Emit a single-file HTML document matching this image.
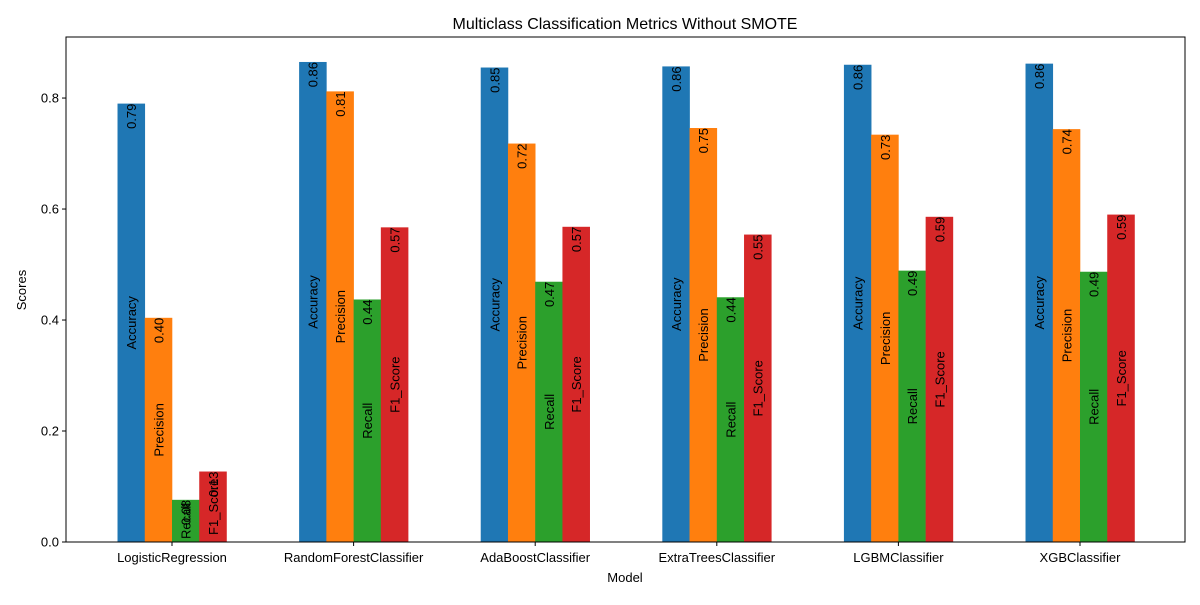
<!DOCTYPE html>
<html><head><meta charset="utf-8"><style>
body{margin:0;background:#fff;}
svg text{font-family:"Liberation Sans","DejaVu Sans",sans-serif;}
</style></head><body>
<svg id="chart" width="1200" height="600" xmlns="http://www.w3.org/2000/svg">
<rect width="1200" height="600" fill="#fff"/>
<text x="625" y="29" font-size="16" text-anchor="middle">Multiclass Classification Metrics Without SMOTE</text>
<g id="marks"></g>
<rect x="66" y="37" width="1119" height="505" fill="none" stroke="#000" stroke-width="1"/>
<text x="625" y="582" font-size="13" text-anchor="middle">Model</text>
<text transform="translate(26,290) rotate(-90)" font-size="13" text-anchor="middle">Scores</text>
</svg>
<script>
const categories=["LogisticRegression","RandomForestClassifier","AdaBoostClassifier","ExtraTreesClassifier","LGBMClassifier","XGBClassifier"];
const metrics=["Accuracy","Precision","Recall","F1_Score"];
const accuracy=[0.790,0.865,0.855,0.857,0.860,0.862];
const precision=[0.404,0.812,0.718,0.746,0.734,0.744];
const recall=[0.076,0.437,0.469,0.441,0.489,0.487];
const f1Score=[0.127,0.567,0.568,0.554,0.586,0.590];
const yTicks=[0.0,0.2,0.4,0.6,0.8];
const colors=["#1f77b4","#ff7f0e","#2ca02c","#d62728"];
const series=[accuracy,precision,recall,f1Score];
const NS="http://www.w3.org/2000/svg";
const x0=66,x1=1185,y0=542,yTop=37,yMax=0.91;
function yS(v){return y0-v/yMax*(y0-yTop);}
const grpStep=181.6, first=172;
function xS(i){return first+i*grpStep;}
const bw=grpStep*0.15;
const g=document.getElementById('marks');
const svg=document.getElementById('chart');
function mk(tag,attrs,parent){const e=document.createElementNS(NS,tag);for(const k in attrs)e.setAttribute(k,attrs[k]);(parent||g).appendChild(e);return e;}
categories.forEach((c,i)=>{
  series.forEach((s,j)=>{
    const v=s[i];
    const left=xS(i)+(j-2)*bw;
    const r=mk('rect',{x:left,y:yS(v),width:bw+0.3,height:y0-yS(v),fill:colors[j]});
    
    
    const cx=left+bw/2+5;
    const t1=mk('text',{transform:`translate(${cx},${yS(v)}) rotate(-90)`,'font-size':13,'text-anchor':'end'});
    t1.textContent=v.toFixed(2);
    
    
    const t2=mk('text',{transform:`translate(${cx},${(yS(v)+y0)/2}) rotate(-90)`,'font-size':13,'text-anchor':'middle'});
    t2.textContent=metrics[j];
    
    
  });
  mk('line',{x1:xS(i),x2:xS(i),y1:y0,y2:y0+4,stroke:'#000'},svg);
  const tl=mk('text',{x:xS(i),y:y0+20,'font-size':13,'text-anchor':'middle'},svg);
  tl.textContent=c;
  
  
});
yTicks.forEach(v=>{
  mk('line',{x1:x0-4,x2:x0,y1:yS(v),y2:yS(v),stroke:'#000'},svg);
  const t=mk('text',{x:x0-7,y:yS(v)+4.5,'font-size':13,'text-anchor':'end'},svg);
  t.textContent=v.toFixed(1);
  
  
});
</script>
</body></html>
